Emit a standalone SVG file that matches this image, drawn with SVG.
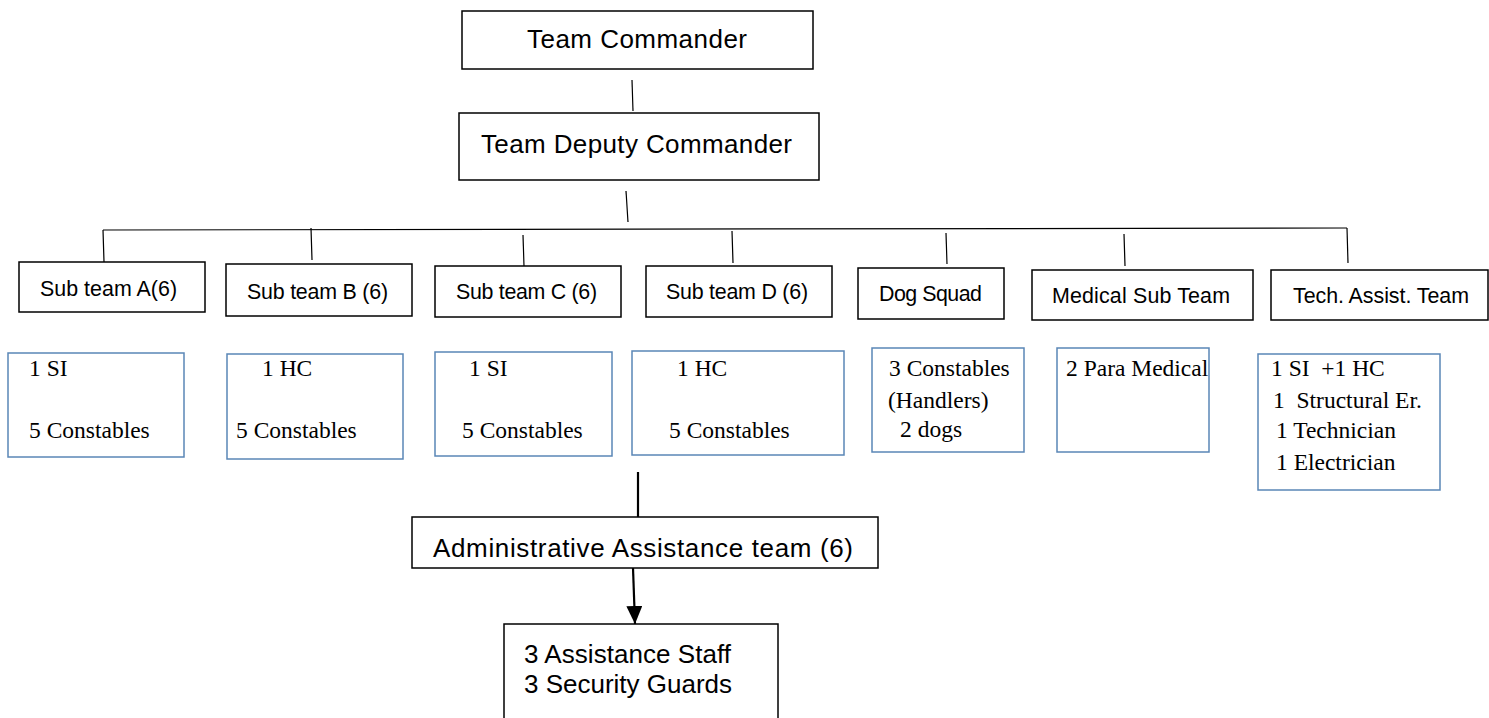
<svg xmlns="http://www.w3.org/2000/svg" width="1489" height="718" viewBox="0 0 1489 718">
<style>
.bx{fill:#fff;stroke:#000;stroke-width:1.5}
.bl{fill:#fff;stroke:#5a86b6;stroke-width:1.5}
.ln{stroke:#000;stroke-width:1.2;fill:none}
.tk{stroke:#000;stroke-width:2.2;fill:none}
.sa{font-family:"Liberation Sans",Arial,sans-serif;fill:#000}
.se{font-family:"Liberation Serif","Times New Roman",serif;font-size:23.5px;fill:#000}
.s1{font-size:21.4px}
.s2{font-size:26px}
</style>
<defs>
<marker id="ah" viewBox="0 0 18 16" refX="18" refY="8" markerWidth="18" markerHeight="16" markerUnits="userSpaceOnUse" orient="auto">
<path d="M0,0 L18,8 L0,16 Z" fill="#000"/>
</marker>
</defs>
<rect x="0" y="0" width="1489" height="718" fill="#fff"/>
<g id="connectors">
<line class="ln" x1="632" y1="80" x2="633" y2="111"/>
<line class="ln" x1="626" y1="191" x2="628" y2="222"/>
<line class="ln" x1="103" y1="230" x2="1347" y2="228"/>
<line class="ln" x1="103" y1="230" x2="104" y2="262"/>
<line class="ln" x1="311" y1="228" x2="312" y2="260"/>
<line class="ln" x1="523" y1="235" x2="524" y2="266"/>
<line class="ln" x1="732" y1="231" x2="733" y2="263"/>
<line class="ln" x1="946" y1="233" x2="947" y2="264"/>
<line class="ln" x1="1124" y1="234" x2="1125" y2="266"/>
<line class="ln" x1="1347" y1="228" x2="1348" y2="263"/>
<line class="tk" x1="638" y1="472" x2="638" y2="517"/>
<line class="tk" x1="633" y1="568" x2="635" y2="624" marker-end="url(#ah)"/>
</g>
<g id="team-commander">
<rect class="bx" x="462" y="11" width="351" height="58"/>
<text class="sa s2" x="527" y="48" textLength="220">Team Commander</text>
</g>
<g id="team-deputy-commander">
<rect class="bx" x="459" y="113" width="360" height="67"/>
<text class="sa s2" x="481" y="153" textLength="311">Team Deputy Commander</text>
</g>
<g id="sub-team-a">
<rect class="bx" x="19" y="262" width="186" height="50"/>
<text class="sa s1" x="40" y="296" textLength="137">Sub team A(6)</text>
</g>
<g id="sub-team-b">
<rect class="bx" x="226" y="264" width="186" height="52"/>
<text class="sa s1" x="247" y="299" textLength="141">Sub team B (6)</text>
</g>
<g id="sub-team-c">
<rect class="bx" x="435" y="266" width="186" height="51"/>
<text class="sa s1" x="456" y="299" textLength="141">Sub team C (6)</text>
</g>
<g id="sub-team-d">
<rect class="bx" x="646" y="266" width="186" height="51"/>
<text class="sa s1" x="666" y="299" textLength="142">Sub team D (6)</text>
</g>
<g id="dog-squad">
<rect class="bx" x="858" y="268" width="146" height="51"/>
<text class="sa s1" x="879" y="301" textLength="103">Dog Squad</text>
</g>
<g id="medical-sub-team">
<rect class="bx" x="1032" y="270" width="221" height="50"/>
<text class="sa s1" x="1052" y="303" textLength="178">Medical Sub Team</text>
</g>
<g id="tech-assist-team">
<rect class="bx" x="1271" y="270" width="217" height="50"/>
<text class="sa s1" x="1293" y="303" textLength="176">Tech. Assist. Team</text>
</g>
<g id="sub-team-a-members">
<rect class="bl" x="8" y="353" width="176" height="104"/>
<text class="se" x="29" y="376">1 SI</text>
<text class="se" x="29" y="438">5 Constables</text>
</g>
<g id="sub-team-b-members">
<rect class="bl" x="227" y="354" width="176" height="105"/>
<text class="se" x="262" y="376">1 HC</text>
<text class="se" x="236" y="438">5 Constables</text>
</g>
<g id="sub-team-c-members">
<rect class="bl" x="435" y="352" width="177" height="104"/>
<text class="se" x="469" y="376">1 SI</text>
<text class="se" x="462" y="438">5 Constables</text>
</g>
<g id="sub-team-d-members">
<rect class="bl" x="632" y="351" width="212" height="104"/>
<text class="se" x="677" y="376">1 HC</text>
<text class="se" x="669" y="438">5 Constables</text>
</g>
<g id="dog-squad-members">
<rect class="bl" x="872" y="348" width="152" height="104"/>
<text class="se" x="889" y="376">3 Constables</text>
<text class="se" x="888" y="408">(Handlers)</text>
<text class="se" x="900" y="437">2 dogs</text>
</g>
<g id="medical-members">
<rect class="bl" x="1057" y="348" width="152" height="104"/>
<text class="se" x="1066" y="376">2 Para Medical</text>
</g>
<g id="tech-members">
<rect class="bl" x="1258" y="354" width="182" height="136"/>
<text class="se" x="1271" y="376" xml:space="preserve">1 SI  +1 HC</text>
<text class="se" x="1273" y="408" xml:space="preserve">1  Structural Er.</text>
<text class="se" x="1276" y="438">1 Technician</text>
<text class="se" x="1276" y="470">1 Electrician</text>
</g>
<g id="admin-team">
<rect class="bx" x="412" y="517" width="466" height="51"/>
<text class="sa s2" x="433" y="557" textLength="420">Administrative Assistance team (6)</text>
</g>
<g id="admin-members">
<rect class="bx" x="504" y="624" width="274" height="110"/>
<text class="sa s2" x="524" y="663" textLength="207">3 Assistance Staff</text>
<text class="sa s2" x="524" y="693" textLength="208">3 Security Guards</text>
</g>
</svg>
